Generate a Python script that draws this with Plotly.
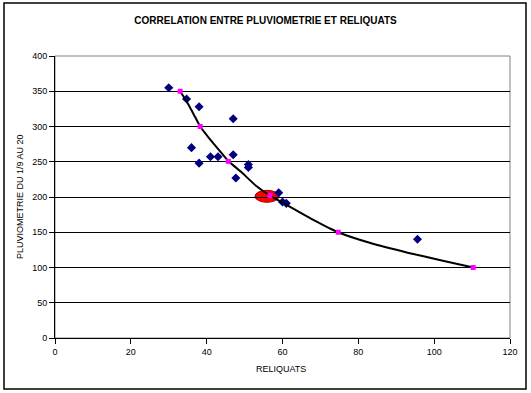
import plotly.graph_objects as go

# Observed data (blue diamonds)
reliquats = [30, 34.7, 38, 47, 36, 41, 43, 47, 38, 51, 51, 47.7, 59, 60, 61, 95.6]
pluvio = [355, 339, 328, 311, 270, 257, 257, 260, 248, 246, 242, 227, 206, 193, 191, 140]

# Trend curve points
curve_x = [33, 35, 37, 38.3, 41, 43.5, 45.7, 49, 53, 56.7, 60, 64, 68, 74.7, 83, 93, 102, 110.3]
curve_y = [350, 333, 313, 300, 281, 265, 251, 236, 216, 202, 192, 180, 168, 150, 135, 121, 110, 100]

# Magenta markers on the curve
mark_x = [33, 38.3, 45.7, 56.7, 74.7, 110.3]
mark_y = [350, 300, 250.6, 202, 150, 100]

# Red ellipse (mean point)
mean_x = [55.9]
mean_y = [201]

x_ticks = [0, 20, 40, 60, 80, 100, 120]
y_ticks = [0, 50, 100, 150, 200, 250, 300, 350, 400]

font = "Liberation Sans, Arial, sans-serif"
W, H = 531, 393
L, R, T, B = 55, 21, 56, 55
pw, ph = W - L - R, H - T - B

def px(xp):
    return (xp - L) / pw

def py(yp):
    return (H - B - yp) / ph

fig = go.Figure()
fig.add_trace(go.Scatter(x=reliquats, y=pluvio, mode="markers",
                         marker=dict(symbol="diamond", size=7, color="#000080"),
                         showlegend=False, cliponaxis=False))
fig.add_trace(go.Scatter(x=curve_x, y=curve_y, mode="lines",
                         line=dict(color="black", width=2, shape="spline", smoothing=0.5),
                         showlegend=False))

shapes = []
for mx, my in zip(mean_x, mean_y):
    shapes.append(dict(type="circle", xref="x", yref="y", xsizemode="pixel", ysizemode="pixel",
                       xanchor=mx, yanchor=my, x0=-12, x1=12, y0=-6, y1=6, layer="below",
                       fillcolor="#FF0000", line=dict(color="#A00000", width=1)))
# outer chart border
shapes.append(dict(type="rect", xref="paper", yref="paper", x0=px(4), x1=px(526), y0=py(389), y1=py(3),
                   line=dict(color="black", width=1.5), layer="below"))
# plot area border (top/right grey)
shapes.append(dict(type="rect", xref="paper", yref="paper", x0=0, x1=1, y0=0, y1=1,
                   line=dict(color="#808080", width=1), layer="below"))

fig.add_trace(go.Scatter(x=mark_x, y=mark_y, mode="markers",
                         marker=dict(symbol="square", size=5, color="#FF00FF"),
                         showlegend=False))

annotations = [
    dict(text="RELIQUATS", xref="paper", yref="paper", x=px(281), y=py(369),
         showarrow=False, xanchor="center", yanchor="middle", font=dict(size=9)),
    dict(text="PLUVIOMETRIE DU 1/9 AU 20", xref="paper", yref="paper", x=px(20), y=py(197),
         showarrow=False, xanchor="center", yanchor="middle", textangle=-90, font=dict(size=9)),
]

fig.update_layout(
    width=W, height=H,
    margin=dict(l=L, r=R, t=T, b=B),
    paper_bgcolor="white", plot_bgcolor="white",
    font=dict(family=font, size=9, color="black"),
    title=dict(text="<b>CORRELATION ENTRE PLUVIOMETRIE ET RELIQUATS</b>",
               x=0.5, xanchor="center", y=1 - 20 / H, yanchor="middle",
               font=dict(size=10, family=font, color="black")),
    shapes=shapes,
    annotations=annotations,
    xaxis=dict(range=[0, 120], tickvals=x_ticks, ticks="outside", ticklen=5,
               tickcolor="black", showline=True, linecolor="black", linewidth=1,
               showgrid=False, zeroline=False, automargin=False),
    yaxis=dict(range=[0, 400], tickvals=y_ticks, ticks="outside", ticklen=5,
               tickcolor="black", showline=True, linecolor="black", linewidth=1,
               showgrid=True, gridcolor="black", gridwidth=1, zeroline=False, automargin=False),
)

fig.write_html("out.html", config={"displayModeBar": False},
               post_script="document.body.style.margin='0';document.body.style.overflow='hidden';")
